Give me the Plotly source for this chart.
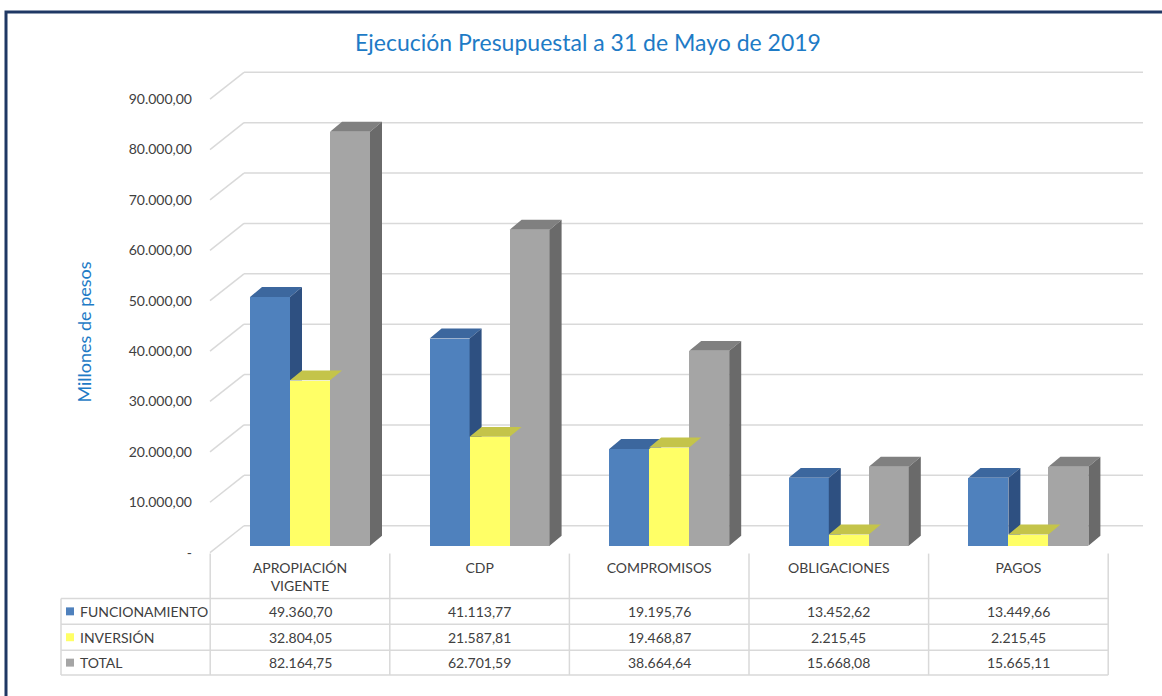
import plotly.graph_objects as go

# ---------------- data ----------------
categories = ["APROPIACIÓN VIGENTE", "CDP", "COMPROMISOS", "OBLIGACIONES", "PAGOS"]
category_ticktext = ["APROPIACIÓN<br>VIGENTE", "CDP", "COMPROMISOS", "OBLIGACIONES", "PAGOS"]
series_names = ["FUNCIONAMIENTO", "INVERSIÓN", "TOTAL"]
funcionamiento = [49360.70, 41113.77, 19195.76, 13452.62, 13449.66]
inversion = [32804.05, 21587.81, 19468.87, 2215.45, 2215.45]
total = [82164.75, 62701.59, 38664.64, 15668.08, 15665.11]
y_ticks = [0, 10000, 20000, 30000, 40000, 50000, 60000, 70000, 80000, 90000]

title_text = "Ejecución Presupuestal a 31 de Mayo de 2019"
y_title = "Millones de pesos"

# ---------------- styles / layout constants ----------------
W, H = 1162, 696
FONT = "Lato"
TXT = "#404040"
GRID = "#D9D9D9"
front_colors = ["#4F81BD", "#FFFF66", "#A5A5A5"]
top_colors = ["#3C679E", "#C4C44A", "#808080"]
side_colors = ["#2E5081", "#BABA40", "#6A6A6A"]

CAT_PX = 179.6      # pixels per category
CAT0_PX = 300.0     # pixel centre of first category column
BASE_PX = 548.0     # pixel of value 0 on the bar plane
PX_PER_UNIT = 0.00506

XA, XB = 204, 1150  # plot area x pixels
YA, YB = 60, 560    # plot area y pixels


def px_to_x(px):
    return (px - CAT0_PX) / CAT_PX


def px_to_y(py):
    return (BASE_PX - py) / PX_PER_UNIT


def dy_units(dpx):
    return dpx / PX_PER_UNIT


def fmt(v):
    s = f"{v:,.2f}"
    return s.replace(",", "X").replace(".", ",").replace("X", ".")


BAR_W = 40 / CAT_PX
GROUP_SHIFT = 10 / CAT_PX
DX = 12 / CAT_PX
DY = dy_units(10)
FRONT_OFF = -dy_units(7)   # front wall plane offset
BACK_OFF = dy_units(20)    # back wall plane offset
X_FRONT = px_to_x(210)
X_BACK = px_to_x(244)
X_END = px_to_x(1143)


def clip_above(poly, h):
    """Clip polygon to the half plane y >= h."""
    out = []
    n = len(poly)
    for k in range(n):
        p = poly[k]
        q = poly[(k + 1) % n]
        pin = p[1] >= h
        qin = q[1] >= h
        if pin:
            out.append(p)
        if pin != qin:
            t = (h - p[1]) / (q[1] - p[1])
            out.append((p[0] + t * (q[0] - p[0]), h))
    return out


series_values = [funcionamiento, inversion, total]

fig = go.Figure()

# front faces (bars)
for s, (name, vals) in enumerate(zip(series_names, series_values)):
    xs = [i + GROUP_SHIFT + (s - 1) * BAR_W for i in range(len(categories))]
    fig.add_trace(go.Bar(
        x=xs, y=vals, width=BAR_W, name=name,
        marker=dict(color=front_colors[s], line=dict(width=0)),
        hoverinfo="skip",
    ))

# top and side faces
for s, vals in enumerate(series_values):
    tx, ty, sx, sy = [], [], [], []
    for i, v in enumerate(vals):
        xc = i + GROUP_SHIFT + (s - 1) * BAR_W
        x0, x1 = xc - BAR_W / 2, xc + BAR_W / 2
        top = [(x0, v), (x1, v), (x1 + DX, v + DY), (x0 + DX, v + DY)]
        for p in top + [top[0]]:
            tx.append(p[0]); ty.append(p[1])
        tx.append(None); ty.append(None)
        side = [(x1, 0), (x1, v), (x1 + DX, v + DY), (x1 + DX, DY)]
        if s < len(series_values) - 1:
            side = clip_above(side, series_values[s + 1][i])
        if len(side) >= 3:
            for p in side + [side[0]]:
                sx.append(p[0]); sy.append(p[1])
            sx.append(None); sy.append(None)
    fig.add_trace(go.Scatter(x=tx, y=ty, mode="lines", fill="toself",
                             fillcolor=top_colors[s], line=dict(width=0),
                             hoverinfo="skip", showlegend=False))
    fig.add_trace(go.Scatter(x=sx, y=sy, mode="lines", fill="toself",
                             fillcolor=side_colors[s], line=dict(width=0),
                             hoverinfo="skip", showlegend=False))

shapes = []
# 3D gridlines (side wall diagonal + back wall horizontal)
for t in y_ticks:
    shapes.append(dict(type="line", xref="x", yref="y", layer="below",
                       x0=X_FRONT, y0=t + FRONT_OFF, x1=X_BACK, y1=t + BACK_OFF,
                       line=dict(color=GRID, width=1.5)))
    shapes.append(dict(type="line", xref="x", yref="y", layer="below",
                       x0=X_BACK, y0=t + BACK_OFF, x1=X_END, y1=t + BACK_OFF,
                       line=dict(color=GRID, width=1.5)))


def py(p):
    return 1 - p / H


def px(p):
    return p / W


# data table grid
TABLE_LEFT = 61
row_lines = [601, 627, 653, 678]
col_bounds = [CAT0_PX + CAT_PX * (i - 0.5) for i in range(len(categories) + 1)]
for yl in row_lines:
    shapes.append(dict(type="line", xref="paper", yref="paper",
                       x0=px(TABLE_LEFT), x1=px(col_bounds[-1]), y0=py(yl), y1=py(yl),
                       line=dict(color=GRID, width=1.5)))
shapes.append(dict(type="line", xref="paper", yref="paper",
                   x0=px(TABLE_LEFT), x1=px(TABLE_LEFT), y0=py(row_lines[0]), y1=py(row_lines[-1]),
                   line=dict(color=GRID, width=1.5)))
for cb in col_bounds:
    shapes.append(dict(type="line", xref="paper", yref="paper",
                       x0=px(cb), x1=px(cb), y0=py(556), y1=py(row_lines[-1]),
                       line=dict(color=GRID, width=1.5)))

annotations = []
row_centers = [(row_lines[k] + row_lines[k + 1]) / 2 for k in range(3)]
for s, (name, vals) in enumerate(zip(series_names, series_values)):
    yc = row_centers[s]
    shapes.append(dict(type="rect", xref="paper", yref="paper",
                       x0=px(66), x1=px(74), y0=py(yc + 4), y1=py(yc - 4),
                       fillcolor=front_colors[s], line=dict(width=0)))
    annotations.append(dict(x=px(78), y=py(yc), xref="paper", yref="paper",
                            text=name, showarrow=False, xanchor="left", yanchor="middle",
                            font=dict(family=FONT, size=14, color=TXT)))
    for i, v in enumerate(vals):
        annotations.append(dict(x=i, y=py(yc), xref="x", yref="paper",
                                text=fmt(v), showarrow=False, xanchor="center", yanchor="middle",
                                font=dict(family=FONT, size=14, color=TXT)))

# y-axis title
annotations.append(dict(x=px(84), y=py(334), xref="paper", yref="paper",
                        text=y_title, textangle=-90, showarrow=False,
                        xanchor="center", yanchor="middle",
                        font=dict(family=FONT, size=18, color="#1E7BC6")))

# outer frame
shapes.append(dict(type="rect", xref="paper", yref="paper",
                   x0=px(6), x1=1.05, y0=-0.05, y1=py(12),
                   line=dict(color="#1F3864", width=3), fillcolor="rgba(0,0,0,0)"))

ytext = [fmt(t) if t != 0 else "-" for t in y_ticks]

fig.update_layout(
    width=W, height=H,
    margin=dict(l=0, r=0, t=0, b=0),
    paper_bgcolor="white", plot_bgcolor="rgba(0,0,0,0)",
    barmode="overlay", bargap=0,
    showlegend=False,
    font=dict(family=FONT, color=TXT),
    title=dict(text=title_text, x=588 / W, y=py(43), xanchor="center", yanchor="middle",
               xref="paper", yref="paper",
               font=dict(family=FONT, size=23, color="#1E7BC6")),
    xaxis=dict(domain=[px(XA), px(XB)], range=[px_to_x(XA), px_to_x(XB)],
               tickvals=list(range(len(categories))), ticktext=category_ticktext,
               showgrid=False, zeroline=False, showline=False, ticks="",
               tickfont=dict(family=FONT, size=14, color=TXT), fixedrange=True),
    yaxis=dict(domain=[py(YB), py(YA)], range=[px_to_y(YB), px_to_y(YA)],
               tickvals=[t + FRONT_OFF for t in y_ticks], ticktext=ytext,
               showgrid=False, zeroline=False, showline=False, ticks="",
               ticklabelstandoff=11,
               tickfont=dict(family=FONT, size=14, color=TXT), fixedrange=True),
    shapes=shapes,
    annotations=annotations,
)

fig.write_html("out.html", config={"displayModeBar": False},
               post_script="document.body.style.margin='0';")
